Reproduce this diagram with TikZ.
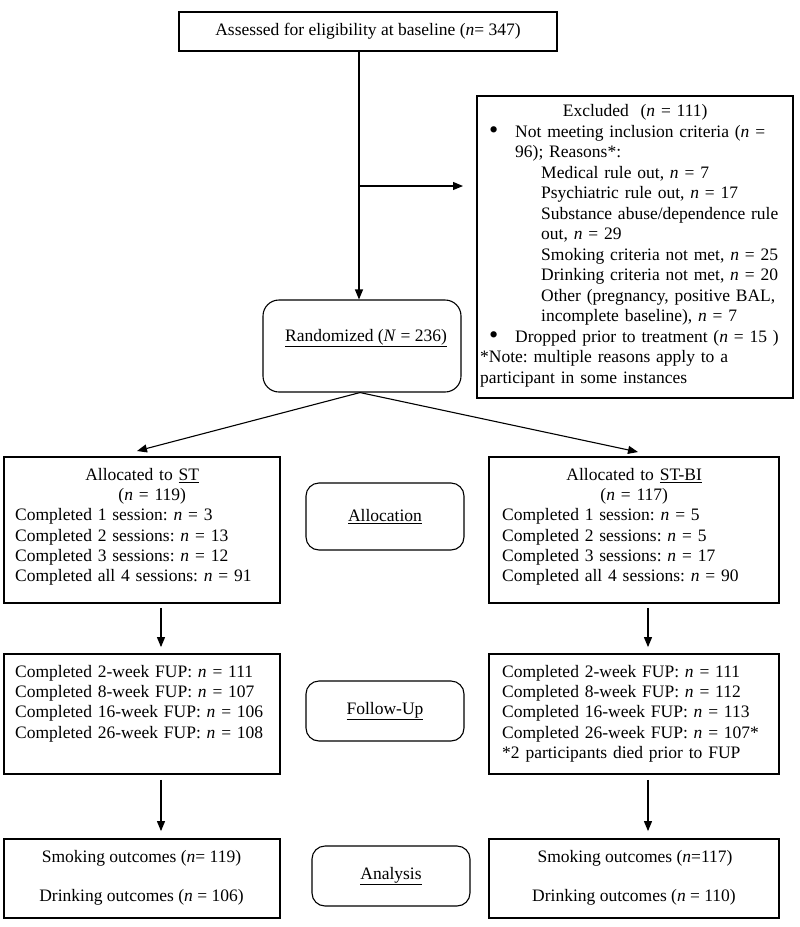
\documentclass[tikz,border=0pt]{standalone}
\usepackage{fontspec}
\usepackage{graphicx}
\setmainfont{Liberation Serif}
\usetikzlibrary{arrows.meta}
\frenchspacing
\newcommand{\fsz}{\fontsize{17.5}{20.3}\selectfont\frenchspacing}
\newcommand{\fsx}{\fontsize{17.5}{20.5}\selectfont\frenchspacing}
\newcommand{\bul}{\raisebox{-1.6pt}{\scalebox{1.5}{\textbullet}}}
\begin{document}
\begin{tikzpicture}[x=1pt,y=-1pt,
  sqbox/.style={draw, line width=1.8pt, inner sep=0pt, font=\fsz},
  rdbox/.style={draw, line width=1.1pt, rounded corners=13pt, inner sep=0pt, font=\fsz},
  txt/.style={inner sep=0pt, font=\fsz, align=left},
  arr/.style={line width=1.1pt, -{Triangle[length=10pt,width=8pt]}}]
\useasboundingbox (0,0) rectangle (800,927);

% boxes
\node[sqbox, minimum width=378pt, minimum height=39pt] (top) at (368,31.5)
  {Assessed for eligibility at baseline (\textit{n}= 347)};
\node[sqbox, minimum width=316pt, minimum height=302pt] (exc) at (635,247) {};
\node[rdbox, rounded corners=16pt, minimum width=198pt, minimum height=92pt] (rand) at (362,346) {};
\node[sqbox, minimum width=276pt, minimum height=146pt] (alST) at (142,530) {};
\node[sqbox, minimum width=290pt, minimum height=146pt] (alBI) at (634,530) {};
\node[rdbox, minimum width=158pt, minimum height=67pt] (alloc) at (385,516.5) {\underline{Allocation}};
\node[sqbox, minimum width=276pt, minimum height=120pt] (fuST) at (142,714) {};
\node[sqbox, minimum width=290pt, minimum height=120pt] (fuBI) at (634,714) {};
\node[rdbox, minimum width=158pt, minimum height=60pt] (fu) at (385,711) {\underline{Follow-Up}};
\node[sqbox, minimum width=276pt, minimum height=79pt] (anST) at (142,878.5) {};
\node[sqbox, minimum width=290pt, minimum height=79pt] (anBI) at (634,878.5) {};
\node[rdbox, minimum width=158pt, minimum height=60pt] (an) at (391,876) {\underline{Analysis}};

% texts
\node[txt, anchor=north west, font=\fsx, text width=312pt] (exctext) at (480,102.2) {\strut\makebox[310pt][c]{Excluded\ \ (\textit{n} = 111)}\\
\makebox[35pt][l]{\hspace*{9pt}\bul}Not meeting inclusion criteria (\textit{n} =\\
\hspace*{35pt}96); Reasons*:\\
\hspace*{61pt}Medical rule out, \textit{n} = 7\\
\hspace*{61pt}Psychiatric rule out, \textit{n} = 17\\
\hspace*{61pt}Substance abuse/dependence rule\\
\hspace*{61pt}out, \textit{n} = 29\\
\hspace*{61pt}Smoking criteria not met, \textit{n} = 25\\
\hspace*{61pt}Drinking criteria not met, \textit{n} = 20\\
\hspace*{61pt}Other (pregnancy, positive BAL,\\
\hspace*{61pt}incomplete baseline), \textit{n} = 7\\
\makebox[35pt][l]{\hspace*{9pt}\bul}Dropped prior to treatment (\textit{n} = 15 )\\
\relax *Note: multiple reasons apply to a\\
participant in some instances};

\node[txt, anchor=base] (randtext) at (366,341) {\underline{Randomized (\textit{N} = 236)}};

\node[txt, anchor=north west, text width=256pt] (alSTtext) at (15,465.8) {\strut\makebox[254pt][c]{Allocated to \underline{ST}}\\
\makebox[254pt][c]{\hspace*{20pt}(\textit{n} = 119)}\\
Completed 1 session: \textit{n} = 3\\
Completed 2 sessions: \textit{n} = 13\\
Completed 3 sessions: \textit{n} = 12\\
Completed all 4 sessions: \textit{n} = 91};

\node[txt, anchor=north west, text width=266pt] (alBItext) at (502,465.8) {\strut\makebox[264pt][c]{Allocated to \underline{ST-BI}}\\
\makebox[264pt][c]{(\textit{n} = 117)}\\
Completed 1 session: \textit{n} = 5\\
Completed 2 sessions: \textit{n} = 5\\
Completed 3 sessions: \textit{n} = 17\\
Completed all 4 sessions: \textit{n} = 90};

\node[txt, anchor=north west, text width=262pt] (fuSTtext) at (15,662.8) {\strut Completed 2-week FUP: \textit{n} = 111\\
Completed 8-week FUP: \textit{n} = 107\\
Completed 16-week FUP: \textit{n} = 106\\
Completed 26-week FUP: \textit{n} = 108};

\node[txt, anchor=north west, text width=276pt] (fuBItext) at (502,662.8) {\strut Completed 2-week FUP: \textit{n} = 111\\
Completed 8-week FUP: \textit{n} = 112\\
Completed 16-week FUP: \textit{n} = 113\\
Completed 26-week FUP: \textit{n} = 107*\\
\relax *2 participants died prior to FUP};

\node[txt, anchor=base] (anSTa) at (141.5,862) {Smoking outcomes (\textit{n}= 119)};
\node[txt, anchor=base] (anSTb) at (141.5,901) {Drinking outcomes (\textit{n} = 106)};
\node[txt, anchor=base] (anBIa) at (635,862) {Smoking outcomes (\textit{n}=117)};
\node[txt, anchor=base] (anBIb) at (634,901) {Drinking outcomes (\textit{n} = 110)};

% connectors
\coordinate (excA) at (463,186);
\coordinate (alA) at (137,451);
\coordinate (alB) at (638,452);
\draw[arr] ([xshift=-9pt]top.south) -- ([xshift=-3pt]rand.north);
\draw[arr] ([xshift=-9pt]top.south |- excA) -- (excA);
\draw[arr] ([xshift=-2pt]rand.south) -- (alA);
\draw[arr] ([xshift=-2pt]rand.south) -- (alB);
\draw[arr] ([xshift=19pt,yshift=-4pt]alST.south) -- ([xshift=19pt,yshift=6pt]fuST.north);
\draw[arr] ([xshift=14pt,yshift=-4pt]alBI.south) -- ([xshift=14pt,yshift=6pt]fuBI.north);
\draw[arr] ([xshift=19pt,yshift=-5pt]fuST.south) -- ([xshift=19pt,yshift=7pt]anST.north);
\draw[arr] ([xshift=14pt,yshift=-5pt]fuBI.south) -- ([xshift=14pt,yshift=7pt]anBI.north);
\end{tikzpicture}
\end{document}
